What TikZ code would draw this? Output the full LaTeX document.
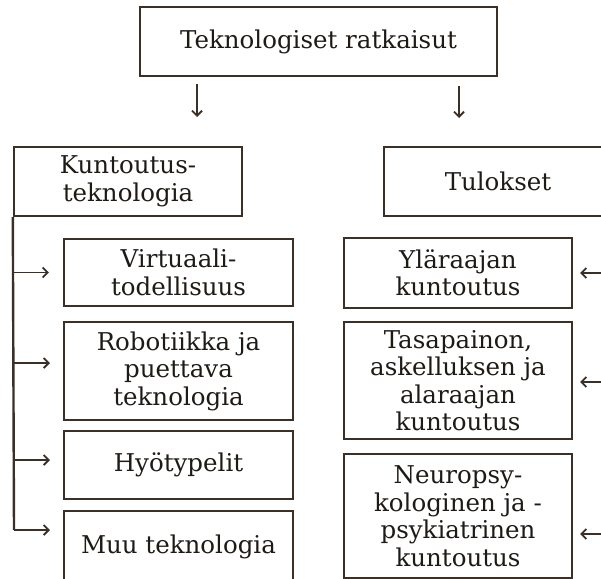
\documentclass[tikz,border=0pt]{standalone}
\usepackage{fontspec}
\setmainfont{DejaVu Serif}
\usepackage{tikz}
\usetikzlibrary{arrows.meta,calc,positioning}
\definecolor{boxline}{HTML}{3A3027}
\definecolor{boxtext}{HTML}{1E1A16}

\begin{document}
\begin{tikzpicture}[x=1pt,y=-1pt,
    box/.style={draw=boxline,line width=2.4pt,rectangle,align=center,text=boxtext,
      font=\fontsize{24.5}{27.5}\selectfont,inner sep=0pt},
    link/.style={draw=boxline,line width=1.8pt,-{Straight Barb[length=5pt,width=10pt,line width=1.8pt]}}]
          \useasboundingbox (0,0) rectangle (601,578);
          \clip (0,0) rectangle (601,578);
          \node[box,minimum width=357pt,minimum height=69pt] (ratk) at (318.5,41.5) {Teknologiset ratkaisut};
          \node[box,minimum width=228pt,minimum height=69pt] (kunt) at (128,181.5) {Kuntoutus-\\teknologia};
          \node[box,minimum width=228pt,minimum height=69pt] (tul) at (498,181.5) {Tulokset};
          \node[box,minimum width=229pt,minimum height=67pt] (virt) at (178.5,272.5) {Virtuaali-\\todellisuus};
          \node[box,minimum width=229pt,minimum height=98pt] (robo) at (178.5,371) {Robotiikka ja\\puettava\\teknologia};
          \node[box,minimum width=229pt,minimum height=68pt] (hyoty) at (178.5,465) {Hyötypelit};
          \node[box,minimum width=229pt,minimum height=72pt] (muu) at (178.5,547) {Muu teknologia};
          \node[box,minimum width=228pt,minimum height=70pt] (yla) at (458,273) {Yläraajan\\kuntoutus};
          \node[box,minimum width=228pt,minimum height=117pt] (tasa) at (458,380.5) {Tasapainon,\\askelluksen ja\\alaraajan\\kuntoutus};
          \node[box,minimum width=228pt,minimum height=124pt] (neuro) at (458,516) {Neuropsy-\\kologinen ja -\\psykiatrinen\\kuntoutus};
          % short arrows under the top box
          \coordinate (a1) at (197,84);
          \coordinate (b1) at (197,117);
          \coordinate (a2) at (459,86);
          \coordinate (b2) at (459,118);
          \draw[link] (a1) -- (b1);
          \draw[link] (a2) -- (b2);
          % left branch
          \coordinate (spine) at (14,530);
          \draw[boxline,line width=2.4pt] (kunt.south west) -- (spine);
          \draw[link] (virt.west -| kunt.west) -- ++(36,0) coordinate (v1);
          \draw[link] (14,363) coordinate (r0) -- ++(36,0) coordinate (r1);
          \draw[link] (14,460) coordinate (h0) -- ++(36,0) coordinate (h1);
          \draw[link] (spine) -- ++(36,0) coordinate (m1);
          % right side, coming in from the edge
          \coordinate (y0) at (606,273);
          \coordinate (t0) at (606,382);
          \coordinate (n0) at (606,534);
          \draw[link] (y0) -- (580,273);
          \draw[link] (t0) -- (580,382);
          \draw[link] (n0) -- (580,534);
\end{tikzpicture}
\end{document}
